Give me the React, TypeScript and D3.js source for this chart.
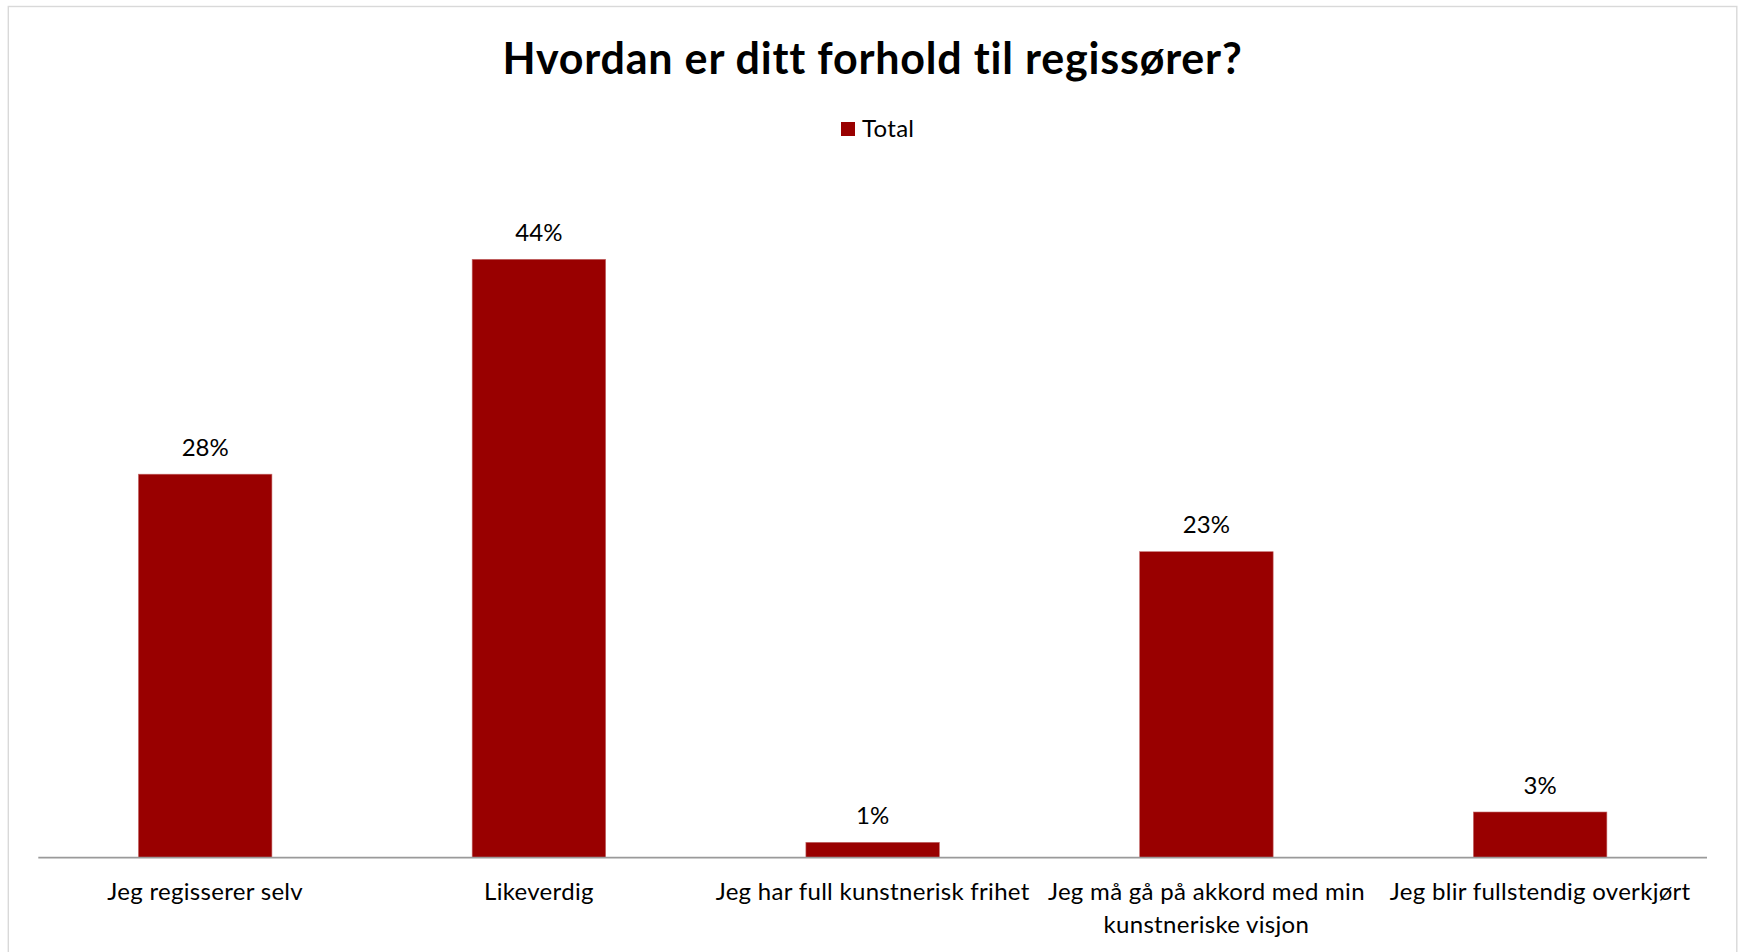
import React from "react";
import * as d3 from "d3";

const categories: string[][] = [
  ["Jeg regisserer selv"],
  ["Likeverdig"],
  ["Jeg har full kunstnerisk frihet"],
  ["Jeg må gå på akkord med min", "kunstneriske visjon"],
  ["Jeg blir fullstendig overkjørt"],
];
const totalValues: number[] = [28.2, 44.0, 1.13, 22.5, 3.36];
const valueLabels: string[] = ["28%", "44%", "1%", "23%", "3%"];
const seriesName = "Total";
const title = "Hvordan er ditt forhold til regissører?";

const W = 1739;
const H = 952;
const FONT = "Lato, 'Open Sans', sans-serif";
const BAR = "#990000";

export default function App() {
  const axisY = 857.7;
  const x = d3
    .scaleBand<number>()
    .domain(d3.range(categories.length))
    .range([38.3, 1707])
    .paddingInner(0.6)
    .paddingOuter(0.3);
  const y = d3.scaleLinear().domain([0, 50]).range([axisY, axisY - 680]);

  return (
    <svg
      width={W}
      height={H}
      style={{ position: "absolute", left: 0, top: 0, display: "block", background: "#fff" }}
    >
      <rect x={0} y={0} width={W} height={H} fill="#fff" />
      <rect x={8.3} y={6.5} width={1728.5} height={960} fill="#fff" stroke="#d9d9d9" strokeWidth={1.4} />
      <text
        x={872.5}
        y={74.3}
        textAnchor="middle"
        fontFamily={FONT}
        fontWeight={700}
        fontSize={43}
        letterSpacing={0.8}
        fill="#000"
      >
        {title}
      </text>
      {/* legend */}
      <g>
        <rect x={841} y={122} width={14} height={14} fill={BAR} />
        <text x={862} y={137} fontFamily={FONT} fontSize={24} letterSpacing={0.3} fill="#000">
          {seriesName}
        </text>
      </g>
      {/* bars */}
      {totalValues.map((v, i) => (
        <rect
          key={i}
          x={x(i)!}
          y={y(v)}
          width={x.bandwidth()}
          height={axisY - y(v)}
          fill={BAR}
          stroke="#c46a6a"
          strokeWidth={0.6}
        />
      ))}
      {/* axis */}
      <line x1={38.3} x2={1707} y1={axisY} y2={axisY} stroke="#9a9a9a" strokeWidth={1.7} />
      {/* data labels */}
      {totalValues.map((v, i) => (
        <text
          key={i}
          x={x(i)! + x.bandwidth() / 2}
          y={y(v) - 18.5}
          textAnchor="middle"
          fontFamily={FONT}
          fontSize={24}
          fill="#000"
        >
          {valueLabels[i]}
        </text>
      ))}
      {/* category labels */}
      {categories.map((lines, i) => (
        <text
          key={i}
          x={x(i)! + x.bandwidth() / 2}
          y={899.5}
          textAnchor="middle"
          fontFamily={FONT}
          fontSize={24}
          letterSpacing={0.3}
          fill="#000"
        >
          {lines.map((l, j) => (
            <tspan key={j} x={x(i)! + x.bandwidth() / 2} dy={j === 0 ? 0 : 33}>
              {l}
            </tspan>
          ))}
        </text>
      ))}
    </svg>
  );
}
